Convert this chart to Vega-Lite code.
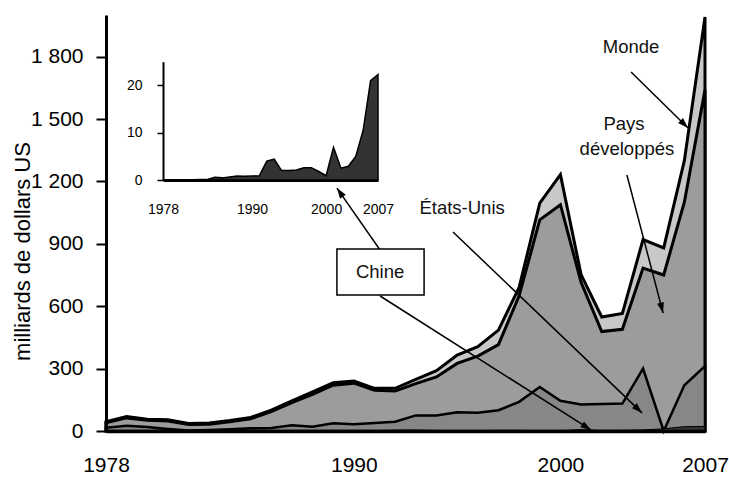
{
  "$schema": "https://vega.github.io/schema/vega-lite/v6.json",
  "width": 599,
  "height": 416,
  "autosize": {"type": "none"},
  "padding": {"left": 106, "top": 15, "right": 24, "bottom": 46},
  "background": "white",
  "config": {"view": {"stroke": null}, "font": "Liberation Sans", "axis": {"labelColor": "black", "titleColor": "black", "domainColor": "black", "tickColor": "black", "grid": false}},
  "datasets": {
    "fdi": [
      {"year": 1978, "monde": 45, "dev": 40, "us": 16, "chine": 0},
      {"year": 1979, "monde": 70, "dev": 63, "us": 25, "chine": 0},
      {"year": 1980, "monde": 57, "dev": 52, "us": 19, "chine": 0},
      {"year": 1981, "monde": 54, "dev": 48, "us": 10, "chine": 0},
      {"year": 1982, "monde": 36, "dev": 31, "us": 2, "chine": 0.04},
      {"year": 1983, "monde": 38, "dev": 33, "us": 5, "chine": 0.1},
      {"year": 1984, "monde": 50, "dev": 45, "us": 8, "chine": 0.13},
      {"year": 1985, "monde": 65, "dev": 59, "us": 13, "chine": 0.6},
      {"year": 1986, "monde": 100, "dev": 93, "us": 15, "chine": 0.45},
      {"year": 1987, "monde": 145, "dev": 136, "us": 28, "chine": 0.65},
      {"year": 1988, "monde": 188, "dev": 176, "us": 20, "chine": 0.85},
      {"year": 1989, "monde": 232, "dev": 220, "us": 37, "chine": 0.78},
      {"year": 1990, "monde": 240, "dev": 230, "us": 33, "chine": 0.83},
      {"year": 1991, "monde": 205, "dev": 196, "us": 38, "chine": 0.91},
      {"year": 1992, "monde": 205, "dev": 192, "us": 45, "chine": 4.0},
      {"year": 1993, "monde": 248, "dev": 228, "us": 75, "chine": 4.4},
      {"year": 1994, "monde": 290, "dev": 260, "us": 75, "chine": 2.0},
      {"year": 1995, "monde": 365, "dev": 325, "us": 90, "chine": 2.0},
      {"year": 1996, "monde": 405, "dev": 360, "us": 88, "chine": 2.1},
      {"year": 1997, "monde": 485, "dev": 415, "us": 100, "chine": 2.6},
      {"year": 1998, "monde": 690, "dev": 650, "us": 140, "chine": 2.6},
      {"year": 1999, "monde": 1095, "dev": 1015, "us": 212, "chine": 1.8},
      {"year": 2000, "monde": 1232, "dev": 1088, "us": 145, "chine": 0.9},
      {"year": 2001, "monde": 752, "dev": 715, "us": 128, "chine": 6.9},
      {"year": 2002, "monde": 548, "dev": 478, "us": 130, "chine": 2.5},
      {"year": 2003, "monde": 565, "dev": 489, "us": 132, "chine": 2.9},
      {"year": 2004, "monde": 920, "dev": 783, "us": 300, "chine": 5.0},
      {"year": 2005, "monde": 880, "dev": 750, "us": 0, "chine": 10.5},
      {"year": 2006, "monde": 1300, "dev": 1100, "us": 220, "chine": 21},
      {"year": 2007, "monde": 1990, "dev": 1640, "us": 312, "chine": 22.3}
    ],
    "labels": [
      {"label": "Monde", "x": 2003.42, "y": 1846},
      {"label": "Pays", "x": 2003.08, "y": 1476},
      {"label": "développés", "x": 2003.22, "y": 1356},
      {"label": "États-Unis", "x": 1995.24, "y": 1072},
      {"label": "Chine", "x": 1991.27, "y": 764}
    ],
    "box": [{"x": 1989.18, "x2": 1993.4, "y": 875, "y2": 654}],
    "arrows": [
      {"id": "m", "x": 2003.42, "y": 1726, "x2": 2006.18, "y2": 1457},
      {"id": "d", "x": 2003.22, "y": 1231, "x2": 2004.97, "y2": 567},
      {"id": "u", "x": 1994.8, "y": 957, "x2": 2003.95, "y2": 87},
      {"id": "c1", "x": 1991.27, "y": 649, "x2": 2001.48, "y2": 5},
      {"id": "c2", "x": 1991.27, "y": 870, "x2": 1989.18, "y2": 1168}
    ]
  },
  "layer": [
    {
      "layer": [
        {
          "data": {"name": "fdi"},
          "mark": {"type": "area", "color": "#c8c8c8", "stroke": "black", "strokeWidth": 3, "strokeJoin": "miter"},
          "encoding": {
            "x": {"field": "year", "type": "quantitative", "title": null,
              "scale": {"domain": [1978, 2007], "nice": false, "zero": false},
              "axis": {"values": [1978, 1990, 2000, 2007], "format": "d", "ticks": false, "tickSize": 0, "labelPadding": 23, "labelFontSize": 21, "labelFont": "Liberation Sans", "domainWidth": 3.5, "labelFlush": false, "labelOverlap": false, "zindex": 1}},
            "y": {"field": "monde", "type": "quantitative", "title": "milliards de dollars US",
              "scale": {"domain": [0, 2000], "nice": false},
              "axis": {"values": [0, 300, 600, 900, 1200, 1500, 1800], "labelExpr": "replace(format(datum.value, ','), ',', ' ')", "tickSize": 10, "tickWidth": 2, "labelPadding": 13, "labelFontSize": 21, "labelFont": "Liberation Sans", "domainWidth": 3, "titleFont": "Liberation Sans", "titleFontSize": 22, "titleFontWeight": "normal", "titleAngle": 270, "titleX": -84, "titleY": 236, "titleAlign": "center", "titleBaseline": "middle", "zindex": 1}}
          }
        },
        {
          "data": {"name": "fdi"},
          "mark": {"type": "area", "color": "#9c9c9c", "stroke": "black", "strokeWidth": 3, "strokeJoin": "miter"},
          "encoding": {
            "x": {"field": "year", "type": "quantitative", "title": null, "scale": {"domain": [1978, 2007], "nice": false, "zero": false}},
            "y": {"field": "dev", "type": "quantitative", "title": "milliards de dollars US", "scale": {"domain": [0, 2000], "nice": false}}
          }
        },
        {
          "data": {"name": "fdi"},
          "mark": {"type": "area", "color": "#878787", "stroke": "black", "strokeWidth": 2.5, "strokeJoin": "miter"},
          "encoding": {
            "x": {"field": "year", "type": "quantitative", "title": null, "scale": {"domain": [1978, 2007], "nice": false, "zero": false}},
            "y": {"field": "us", "type": "quantitative", "title": "milliards de dollars US", "scale": {"domain": [0, 2000], "nice": false}}
          }
        },
        {
          "data": {"name": "fdi"},
          "mark": {"type": "area", "color": "#333333", "stroke": "black", "strokeWidth": 1},
          "encoding": {
            "x": {"field": "year", "type": "quantitative", "title": null, "scale": {"domain": [1978, 2007], "nice": false, "zero": false}},
            "y": {"field": "chine", "type": "quantitative", "title": "milliards de dollars US", "scale": {"domain": [0, 2000], "nice": false}}
          }
        },
        {
          "data": {"name": "arrows"},
          "mark": {"type": "rule", "color": "black", "strokeWidth": 1.5},
          "encoding": {
            "x": {"field": "x", "type": "quantitative", "title": null, "scale": {"domain": [1978, 2007], "nice": false, "zero": false}},
            "y": {"field": "y", "type": "quantitative", "title": "milliards de dollars US", "scale": {"domain": [0, 2000], "nice": false}},
            "x2": {"field": "x2"},
            "y2": {"field": "y2"}
          }
        },
        {
          "data": {"name": "arrows"},
          "transform": [{"filter": "datum.id === 'm'"}],
          "mark": {"type": "point", "shape": "M0,0L-1,3L1,3Z", "filled": true, "color": "black", "opacity": 1, "size": 49, "angle": 134.5},
          "encoding": {
            "x": {"field": "x2", "type": "quantitative", "title": null, "scale": {"domain": [1978, 2007], "nice": false, "zero": false}},
            "y": {"field": "y2", "type": "quantitative", "title": "milliards de dollars US", "scale": {"domain": [0, 2000], "nice": false}}
          }
        },
        {
          "data": {"name": "arrows"},
          "transform": [{"filter": "datum.id === 'd'"}],
          "mark": {"type": "point", "shape": "M0,0L-1,3L1,3Z", "filled": true, "color": "black", "opacity": 1, "size": 49, "angle": 165.4},
          "encoding": {
            "x": {"field": "x2", "type": "quantitative", "title": null, "scale": {"domain": [1978, 2007], "nice": false, "zero": false}},
            "y": {"field": "y2", "type": "quantitative", "title": "milliards de dollars US", "scale": {"domain": [0, 2000], "nice": false}}
          }
        },
        {
          "data": {"name": "arrows"},
          "transform": [{"filter": "datum.id === 'u'"}],
          "mark": {"type": "point", "shape": "M0,0L-1,3L1,3Z", "filled": true, "color": "black", "opacity": 1, "size": 49, "angle": 133.8},
          "encoding": {
            "x": {"field": "x2", "type": "quantitative", "title": null, "scale": {"domain": [1978, 2007], "nice": false, "zero": false}},
            "y": {"field": "y2", "type": "quantitative", "title": "milliards de dollars US", "scale": {"domain": [0, 2000], "nice": false}}
          }
        },
        {
          "data": {"name": "arrows"},
          "transform": [{"filter": "datum.id === 'c1'"}],
          "mark": {"type": "point", "shape": "M0,0L-1,3L1,3Z", "filled": true, "color": "black", "opacity": 1, "size": 49, "angle": 122.4},
          "encoding": {
            "x": {"field": "x2", "type": "quantitative", "title": null, "scale": {"domain": [1978, 2007], "nice": false, "zero": false}},
            "y": {"field": "y2", "type": "quantitative", "title": "milliards de dollars US", "scale": {"domain": [0, 2000], "nice": false}}
          }
        },
        {
          "data": {"name": "arrows"},
          "transform": [{"filter": "datum.id === 'c2'"}],
          "mark": {"type": "point", "shape": "M0,0L-1,3L1,3Z", "filled": true, "color": "black", "opacity": 1, "size": 49, "angle": 325.3},
          "encoding": {
            "x": {"field": "x2", "type": "quantitative", "title": null, "scale": {"domain": [1978, 2007], "nice": false, "zero": false}},
            "y": {"field": "y2", "type": "quantitative", "title": "milliards de dollars US", "scale": {"domain": [0, 2000], "nice": false}}
          }
        },
        {
          "data": {"name": "box"},
          "mark": {"type": "rect", "fill": "white", "stroke": "black", "strokeWidth": 1.5},
          "encoding": {
            "x": {"field": "x", "type": "quantitative", "title": null, "scale": {"domain": [1978, 2007], "nice": false, "zero": false}},
            "x2": {"field": "x2"},
            "y": {"field": "y", "type": "quantitative", "title": "milliards de dollars US", "scale": {"domain": [0, 2000], "nice": false}},
            "y2": {"field": "y2"}
          }
        },
        {
          "data": {"name": "labels"},
          "mark": {"type": "text", "font": "Liberation Sans", "fontSize": 18.5, "color": "#111111", "align": "center", "baseline": "middle"},
          "encoding": {
            "x": {"field": "x", "type": "quantitative", "title": null, "scale": {"domain": [1978, 2007], "nice": false, "zero": false}},
            "y": {"field": "y", "type": "quantitative", "title": "milliards de dollars US", "scale": {"domain": [0, 2000], "nice": false}},
            "text": {"field": "label"}
          }
        }
      ]
    },
    {
      "data": {"name": "fdi"},
      "mark": {"type": "area", "color": "#333333", "stroke": "black", "strokeWidth": 1.5},
      "encoding": {
        "x": {"field": "year", "type": "quantitative", "title": null,
          "scale": {"domain": [1978, 2007], "range": [57, 272], "nice": false, "zero": false},
          "axis": {"orient": "bottom", "offset": -251, "values": [1978, 1990, 2000, 2007], "format": "d", "ticks": false, "tickSize": 0, "labelPadding": 22, "labelFontSize": 14, "labelFont": "Liberation Sans", "domainWidth": 3, "labelFlush": false, "labelOverlap": false}},
        "y": {"field": "chine", "type": "quantitative", "title": null,
          "scale": {"domain": [0, 25], "range": [165, 46.7], "nice": false},
          "axis": {"orient": "left", "offset": -57, "values": [0, 10, 20], "tickSize": 6, "tickWidth": 1.5, "labelPadding": 15, "labelFontSize": 14, "labelFont": "Liberation Sans", "domainWidth": 2}}
      }
    }
  ],
  "resolve": {"scale": {"x": "independent", "y": "independent"}, "axis": {"x": "independent", "y": "independent"}}
}
